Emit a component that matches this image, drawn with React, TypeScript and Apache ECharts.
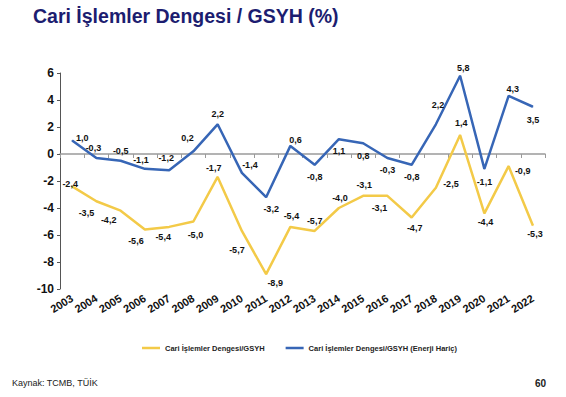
import React, { useEffect, useRef } from "react";
import * as echarts from "echarts";

const years = [
  "2003", "2004", "2005", "2006", "2007", "2008", "2009", "2010", "2011", "2012",
  "2013", "2014", "2015", "2016", "2017", "2018", "2019", "2020", "2021", "2022",
];
const caGdp = [
  -2.4, -3.5, -4.2, -5.6, -5.4, -5.0, -1.7, -5.7, -8.9, -5.4,
  -5.7, -4.0, -3.1, -3.1, -4.7, -2.5, 1.4, -4.4, -0.9, -5.3,
];
const caGdpExEnergy = [
  1.0, -0.3, -0.5, -1.1, -1.2, 0.2, 2.2, -1.4, -3.2, 0.6,
  -0.8, 1.1, 0.8, -0.3, -0.8, 2.2, 5.8, -1.1, 4.3, 3.5,
];
const yMin = -10;
const yMax = 6;
const yInterval = 2;
const seriesNames = ["Cari İşlemler Dengesi/GSYH", "Cari İşlemler Dengesi/GSYH (Enerji Hariç)"];

// label placement (style only): [dx, dy] from each point
const caLabelOffset: [number, number][] = [
  [-2, -2], [-10, 12], [-12, 9], [-9, 11], [-6, 10], [2, 13], [-4, -9], [-5, 19], [9, 9], [1, -11],
  [0, -10], [1, -10], [1, -11], [-8, 12], [3, 11], [15, -4], [1, -12], [1, 9], [14, 5], [2, 8],
];
const exLabelOffset: [number, number][] = [
  [10, -3], [-3, -10], [0, -10], [-4, -9], [-3, -12], [-6, -13], [0, -10], [8, -8], [5, 12], [5, -6],
  [0, 12], [0, 12], [0, 13], [0, 12], [0, 12], [2, -19], [3, -8], [0, 13], [4, -7], [0, 13],
];

const FONT = "'Liberation Sans', Arial, sans-serif";
const BLUE = "#3766b6";
const YELLOW = "#f3ca48";

const fmt = (v: number) => v.toFixed(1).replace(".", ",");

function buildData(values: number[], offsets: [number, number][]) {
  return values.map((v, i) => ({
    value: v,
    label: { offset: offsets[i] },
  }));
}

export default function App() {
  const ref = useRef<HTMLDivElement>(null);

  useEffect(() => {
    document.body.style.margin = "0";
    if (!ref.current) return;
    const chart = echarts.init(ref.current, null, { renderer: "svg" });
    const labelStyle = {
      show: true,
      position: "inside" as const,
      fontFamily: FONT,
      fontSize: 9,
      fontWeight: "bold" as const,
      color: "#111",
      formatter: (p: any) => fmt(p.value),
    };
    chart.setOption({
      animation: false,
      backgroundColor: "#fff",
      title: {
        text: "Cari İşlemler Dengesi / GSYH (%)",
        left: 28,
        top: 1,
        textStyle: { fontFamily: FONT, fontSize: 19.5, fontWeight: "bold", color: "#1c1d70" },
      },
      legend: {
        left: 137,
        top: 339,
        icon: "rect",
        itemWidth: 18,
        itemHeight: 2.5,
        itemGap: 21,
        textStyle: { fontFamily: FONT, fontSize: 7.5, fontWeight: "bold", color: "#222" },
        data: seriesNames,
      },
      graphic: [
        {
          type: "text",
          left: 12,
          top: 378,
          style: { text: "Kaynak: TCMB, TÜİK", fontFamily: FONT, fontSize: 9, fill: "#222" },
        },
        {
          type: "text",
          right: 20,
          top: 378,
          style: { text: "60", fontFamily: FONT, fontSize: 10, fontWeight: "bold", fill: "#222" },
        },
      ],
      grid: { left: 60, right: 21, top: 73, bottom: 108, containLabel: false },
      xAxis: [
        {
          type: "category",
          data: years,
          boundaryGap: true,
          axisLine: { show: true, onZero: true, lineStyle: { color: "#9a9a9a", width: 1.5 } },
          axisTick: { show: true, length: 4, interval: 0, lineStyle: { color: "#9a9a9a" } },
          axisLabel: { show: false },
          splitLine: { show: false },
        },
        {
          type: "category",
          data: years,
          position: "bottom",
          boundaryGap: true,
          axisLine: { show: false, onZero: false },
          axisTick: { show: false },
          axisLabel: {
            show: true,
            interval: 0,
            hideOverlap: false,
            rotate: 32,
            margin: 8,
            fontFamily: FONT,
            fontSize: 11,
            fontWeight: "bold",
            color: "#111",
          },
          splitLine: { show: false },
        },
      ],
      yAxis: {
        type: "value",
        min: yMin,
        max: yMax,
        interval: yInterval,
        axisLine: { show: true, lineStyle: { color: "#555", width: 1 } },
        axisTick: { show: true, length: 3, lineStyle: { color: "#555" } },
        splitLine: { show: false },
        axisLabel: {
          margin: 6,
          fontFamily: FONT,
          fontSize: 12,
          fontWeight: "bold",
          color: "#111",
        },
      },
      series: [
        {
          name: seriesNames[0],
          type: "line",
          xAxisIndex: 0,
          data: buildData(caGdp, caLabelOffset),
          symbol: "circle",
          symbolSize: 1,
          showSymbol: true,
          lineStyle: { color: YELLOW, width: 2.5 },
          itemStyle: { color: YELLOW },
          label: labelStyle,
          z: 2,
        },
        {
          name: seriesNames[1],
          type: "line",
          xAxisIndex: 0,
          data: buildData(caGdpExEnergy, exLabelOffset),
          symbol: "circle",
          symbolSize: 1,
          showSymbol: true,
          lineStyle: { color: BLUE, width: 2.5 },
          itemStyle: { color: BLUE },
          label: labelStyle,
          z: 3,
        },
      ],
    });
    return () => chart.dispose();
  }, []);

  return (
    <div
      ref={ref}
      style={{ position: "fixed", left: 0, top: 0, width: 566, height: 397, background: "#fff" }}
    />
  );
}
